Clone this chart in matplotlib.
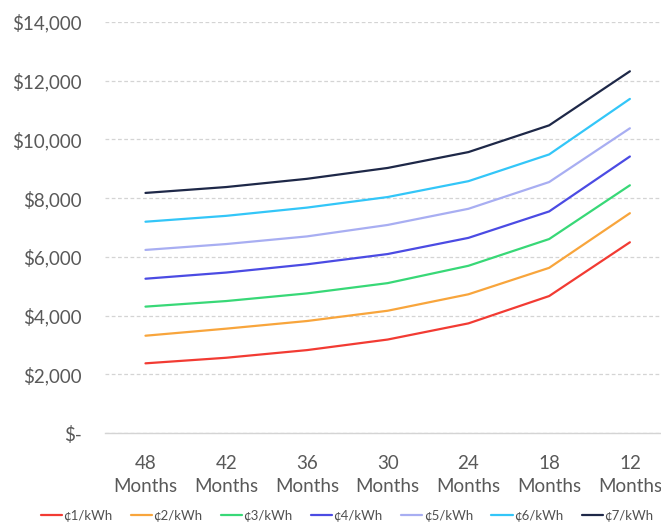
import matplotlib.pyplot as plt
from matplotlib.ticker import FuncFormatter

plt.rcParams['font.family'] = ['Lato', 'DejaVu Sans']

# data
months = ["48", "42", "36", "30", "24", "18", "12"]
rates = ["¢1/kWh", "¢2/kWh", "¢3/kWh", "¢4/kWh", "¢5/kWh", "¢6/kWh", "¢7/kWh"]
c1 = [2380, 2570, 2830, 3190, 3740, 4670, 6500]
c2 = [3320, 3560, 3820, 4170, 4730, 5630, 7490]
c3 = [4310, 4500, 4760, 5110, 5700, 6610, 8440]
c4 = [5260, 5470, 5750, 6100, 6650, 7550, 9420]
c5 = [6240, 6440, 6700, 7090, 7640, 8550, 10380]
c6 = [7200, 7400, 7680, 8040, 8580, 9490, 11380]
c7 = [8180, 8380, 8660, 9030, 9570, 10480, 12320]
series = [c1, c2, c3, c4, c5, c6, c7]

colors = ["#F23B33", "#F8A53C", "#38D877", "#4B4BE3",
          "#A8AEF2", "#33C6F8", "#1E2848"]


def money(v, pos):
    if v == 0:
        return "$-"
    return "${:,.0f}".format(v)


fig = plt.figure(figsize=(6.61, 5.22), dpi=100)
ax = fig.add_axes([0.159, 0.170, 0.855, 0.788])

x = list(range(len(months)))
for vals, lab, col in zip(series, rates, colors):
    ax.plot(x, vals, color=col, lw=1.6, label=lab, solid_capstyle='round')

ax.set_xlim(-0.5, len(months) - 0.5)
ax.set_ylim(0, 14000)
ax.set_yticks(range(0, 14001, 2000))
ax.yaxis.set_major_formatter(FuncFormatter(money))
ax.set_xticks(x)
ax.set_xticklabels([m + "\nMonths" for m in months], linespacing=1.4)

ax.grid(axis='y', color='#D4D4D4', ls=(0, (3, 2)), lw=0.9)
ax.set_axisbelow(True)
for s in ["top", "right", "left"]:
    ax.spines[s].set_visible(False)
ax.spines["bottom"].set_color('#D4D4D4')
ax.spines["bottom"].set_linewidth(1.0)
ax.tick_params(length=0, colors='#595959', labelsize=13.5)
ax.tick_params(axis='y', pad=17)
ax.tick_params(axis='x', pad=16)

fig.legend(loc='lower center', ncol=7, bbox_to_anchor=(0.525, -0.022),
           frameon=False, fontsize=9.5, handlelength=1.6, handletextpad=0.1,
           columnspacing=1.4, labelcolor='#505050')

fig.savefig("out.png", dpi=100)
